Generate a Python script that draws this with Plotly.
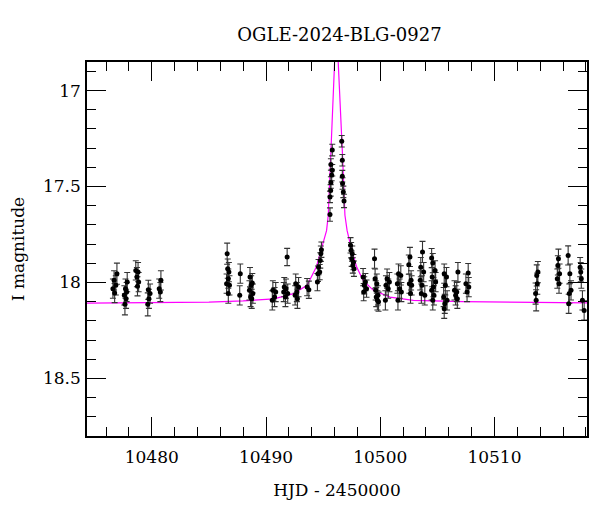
import plotly.graph_objects as go

# Observed photometry (HJD - 2450000, I mag, error)
hjd = [
    10476.95, 10476.70, 10476.85, 10476.60, 10476.75,
    10477.85, 10477.70, 10477.80, 10477.60, 10477.75, 10477.65,
    10478.60, 10478.80, 10478.70, 10478.85, 10478.75,
    10479.70, 10479.85, 10479.75, 10479.65,
    10480.80, 10480.65, 10480.75,
    10486.60, 10486.65, 10486.75, 10486.70, 10486.55, 10486.80, 10486.70,
    10487.75, 10487.70,
    10488.60, 10488.80, 10488.70, 10488.55, 10488.85, 10488.65, 10488.75,
    10490.60, 10490.85, 10490.75, 10490.55,
    10491.85, 10491.60, 10491.75, 10491.55, 10491.90, 10491.70,
    10492.60, 10492.85, 10492.70, 10492.55, 10492.75,
    10493.60, 10493.75,
    10494.85, 10494.80, 10494.75, 10494.60, 10494.70, 10494.55, 10494.50,
    10495.80, 10495.68, 10495.80, 10495.75, 10495.68, 10495.66, 10495.60, 10495.60,
    10496.63, 10496.68, 10496.68, 10496.70, 10496.77, 10496.83,
    10497.40, 10497.45, 10497.55, 10497.50, 10497.65, 10497.60, 10497.70,
    10498.50, 10498.70, 10498.60, 10498.80, 10498.55,
    10499.50, 10499.55, 10499.70, 10499.60, 10499.80, 10499.65, 10499.75, 10499.85,
    10500.60, 10500.80, 10500.50, 10500.70, 10500.45,
    10501.60, 10501.80, 10501.50, 10501.70, 10501.85, 10501.55,
    10502.60, 10502.50, 10502.70, 10502.55, 10502.75, 10502.65,
    10503.70, 10503.55, 10503.80, 10503.50, 10503.65, 10503.60, 10503.90,
    10504.50, 10504.60, 10504.80, 10504.55, 10504.85, 10504.65, 10504.50, 10504.70, 10504.60,
    10505.60, 10505.80, 10505.70, 10505.55, 10505.85, 10505.65, 10505.60,
    10506.80, 10506.50, 10506.70, 10506.60, 10506.75,
    10507.70, 10507.50, 10507.75, 10507.60,
    10513.80, 10513.70, 10513.75, 10513.60, 10513.65,
    10515.60, 10515.55, 10515.70, 10515.50, 10515.65,
    10516.45, 10516.60, 10516.70, 10516.55, 10516.50,
    10517.50, 10517.55, 10517.60, 10517.70, 10517.85,
]
mag = [
    17.954, 17.989, 18.015, 18.032, 18.055,
    17.998, 18.032, 18.050, 18.067, 18.085, 18.114,
    17.937, 17.946, 17.972, 17.998, 18.020,
    18.038, 18.058, 18.085, 18.114,
    17.989, 18.032, 18.050,
    17.850, 17.928, 17.946, 17.980, 18.006, 18.015, 18.058,
    17.954, 18.067,
    17.972, 18.003, 18.015, 18.041, 18.058, 18.076, 18.085,
    18.041, 18.050, 18.076, 18.093,
    17.867, 18.024, 18.032, 18.050, 18.058, 18.076,
    18.006, 18.024, 18.050, 18.067, 18.085,
    18.024, 18.038,
    17.829, 17.850, 17.885, 17.920, 17.946, 17.954, 17.998,
    17.310, 17.385, 17.415, 17.440, 17.479, 17.520, 17.554, 17.646,
    17.264, 17.363, 17.446, 17.484, 17.528, 17.575,
    17.806, 17.832, 17.850, 17.876, 17.894, 17.911, 17.928,
    17.972, 17.998, 18.015, 18.032, 18.050,
    17.876, 17.980, 18.006, 18.041, 18.067, 18.076, 18.093, 18.100,
    17.980, 17.998, 18.015, 18.032, 18.093,
    17.954, 17.963, 18.006, 18.032, 18.050, 18.093,
    17.867, 17.907, 17.989, 18.006, 18.015, 18.058,
    17.841, 17.920, 17.946, 17.989, 18.015, 18.058, 18.067,
    17.873, 17.899, 17.937, 17.972, 17.998, 18.024, 18.041, 18.067, 18.093,
    17.954, 17.972, 18.015, 18.076, 18.093, 18.111, 18.137,
    17.946, 18.041, 18.050, 18.067, 18.085,
    17.951, 18.006, 18.024, 18.050,
    17.946, 17.963, 18.006, 18.058, 18.093,
    17.876, 17.911, 17.954, 17.980, 18.006,
    17.859, 17.954, 18.041, 18.058, 18.111,
    17.920, 17.946, 17.980, 18.093, 18.146,
]
err = [
    0.055, 0.05, 0.05, 0.05, 0.05,
    0.05, 0.05, 0.05, 0.05, 0.05, 0.055,
    0.05, 0.05, 0.05, 0.05, 0.05,
    0.05, 0.05, 0.05, 0.06,
    0.05, 0.05, 0.05,
    0.055, 0.05, 0.05, 0.05, 0.05, 0.05, 0.05,
    0.05, 0.05,
    0.05, 0.05, 0.05, 0.05, 0.05, 0.05, 0.05,
    0.05, 0.05, 0.05, 0.05,
    0.045, 0.05, 0.05, 0.05, 0.05, 0.05,
    0.05, 0.05, 0.05, 0.05, 0.05,
    0.045, 0.045,
    0.04, 0.04, 0.04, 0.04, 0.04, 0.04, 0.045,
    0.03, 0.03, 0.03, 0.03, 0.03, 0.03, 0.03, 0.035,
    0.03, 0.03, 0.03, 0.03, 0.03, 0.035,
    0.04, 0.04, 0.04, 0.04, 0.04, 0.04, 0.04,
    0.045, 0.045, 0.045, 0.045, 0.045,
    0.05, 0.05, 0.05, 0.05, 0.05, 0.05, 0.05, 0.05,
    0.05, 0.05, 0.05, 0.05, 0.05,
    0.05, 0.05, 0.05, 0.05, 0.05, 0.05,
    0.05, 0.05, 0.05, 0.05, 0.05, 0.05,
    0.055, 0.05, 0.05, 0.05, 0.05, 0.05, 0.05,
    0.05, 0.05, 0.05, 0.05, 0.05, 0.05, 0.05, 0.05, 0.05,
    0.05, 0.05, 0.05, 0.05, 0.05, 0.05, 0.05,
    0.05, 0.05, 0.05, 0.05, 0.05,
    0.05, 0.05, 0.05, 0.05,
    0.055, 0.055, 0.055, 0.055, 0.055,
    0.05, 0.05, 0.05, 0.05, 0.05,
    0.05, 0.05, 0.05, 0.05, 0.05,
    0.05, 0.05, 0.05, 0.05, 0.05,
]

# Model curve
model_hjd = [10474.3, 10480.0, 10485.0, 10488.0, 10490.7, 10492.4, 10493.6, 10494.4,
             10495.0, 10495.3, 10495.45, 10495.66, 10495.89, 10496.05, 10496.18,
             10496.32, 10496.47, 10496.70, 10496.91, 10497.1, 10497.5, 10497.94,
             10498.5, 10499.4, 10500.86, 10502.9, 10507.3, 10512.0, 10518.1]
model_mag = [18.108, 18.106, 18.102, 18.096, 18.085, 18.058, 18.015, 17.92,
             17.80, 17.73, 17.65, 17.34, 17.08, 16.85, 16.60,
             16.85, 17.08, 17.34, 17.65, 17.73, 17.83, 17.92,
             17.989, 18.041, 18.076, 18.093, 18.10, 18.104, 18.106]

x_range = [10474.33, 10518.1]
y_range = [18.80, 16.851]

FONT = "DejaVu Serif"

fig = go.Figure()
fig.add_trace(go.Scatter(
    x=model_hjd, y=model_mag, mode="lines",
    line=dict(color="#ff00ff", width=1.2), hoverinfo="skip", showlegend=False,
))
fig.add_trace(go.Scatter(
    x=hjd, y=mag, mode="markers",
    marker=dict(color="black", size=5),
    error_y=dict(type="data", array=err, visible=True, color="#333333",
                 thickness=1.1, width=3),
    showlegend=False,
))

axis_common = dict(
    showline=True, linecolor="black", linewidth=1.5, mirror="allticks",
    ticks="inside", ticklen=19, tickwidth=1, tickcolor="black",
    showgrid=False, zeroline=False, automargin=False,
    tickfont=dict(family=FONT, size=17, color="black"),
)

# the page body adds an 8px offset, so margins are adjusted accordingly
fig.update_layout(
    width=600, height=512,
    margin=dict(l=79, r=21, t=54, b=84),
    paper_bgcolor="white", plot_bgcolor="white",
    title=dict(text="OGLE-2024-BLG-0927", x=331.5 / 600, xanchor="center",
               y=1 - 27 / 512, yanchor="middle", automargin=False,
               font=dict(family=FONT, size=18, color="black")),
    xaxis=dict(range=x_range, dtick=10, tick0=10480, tickformat="d",
               minor=dict(dtick=2, ticks="inside", ticklen=9, tickcolor="black", showgrid=False),
               title=dict(text="HJD - 2450000", standoff=18,
                          font=dict(family=FONT, size=17, color="black")),
               ticklabelstandoff=5,
               **axis_common),
    yaxis=dict(range=y_range, dtick=0.5, tick0=17,
               minor=dict(dtick=0.1, ticks="inside", ticklen=9, tickcolor="black", showgrid=False),
               title=dict(text="I magnitude", standoff=14,
                          font=dict(family=FONT, size=17, color="black")),
               ticklabelstandoff=1,
               **axis_common),
)

fig.write_html("out.html")
